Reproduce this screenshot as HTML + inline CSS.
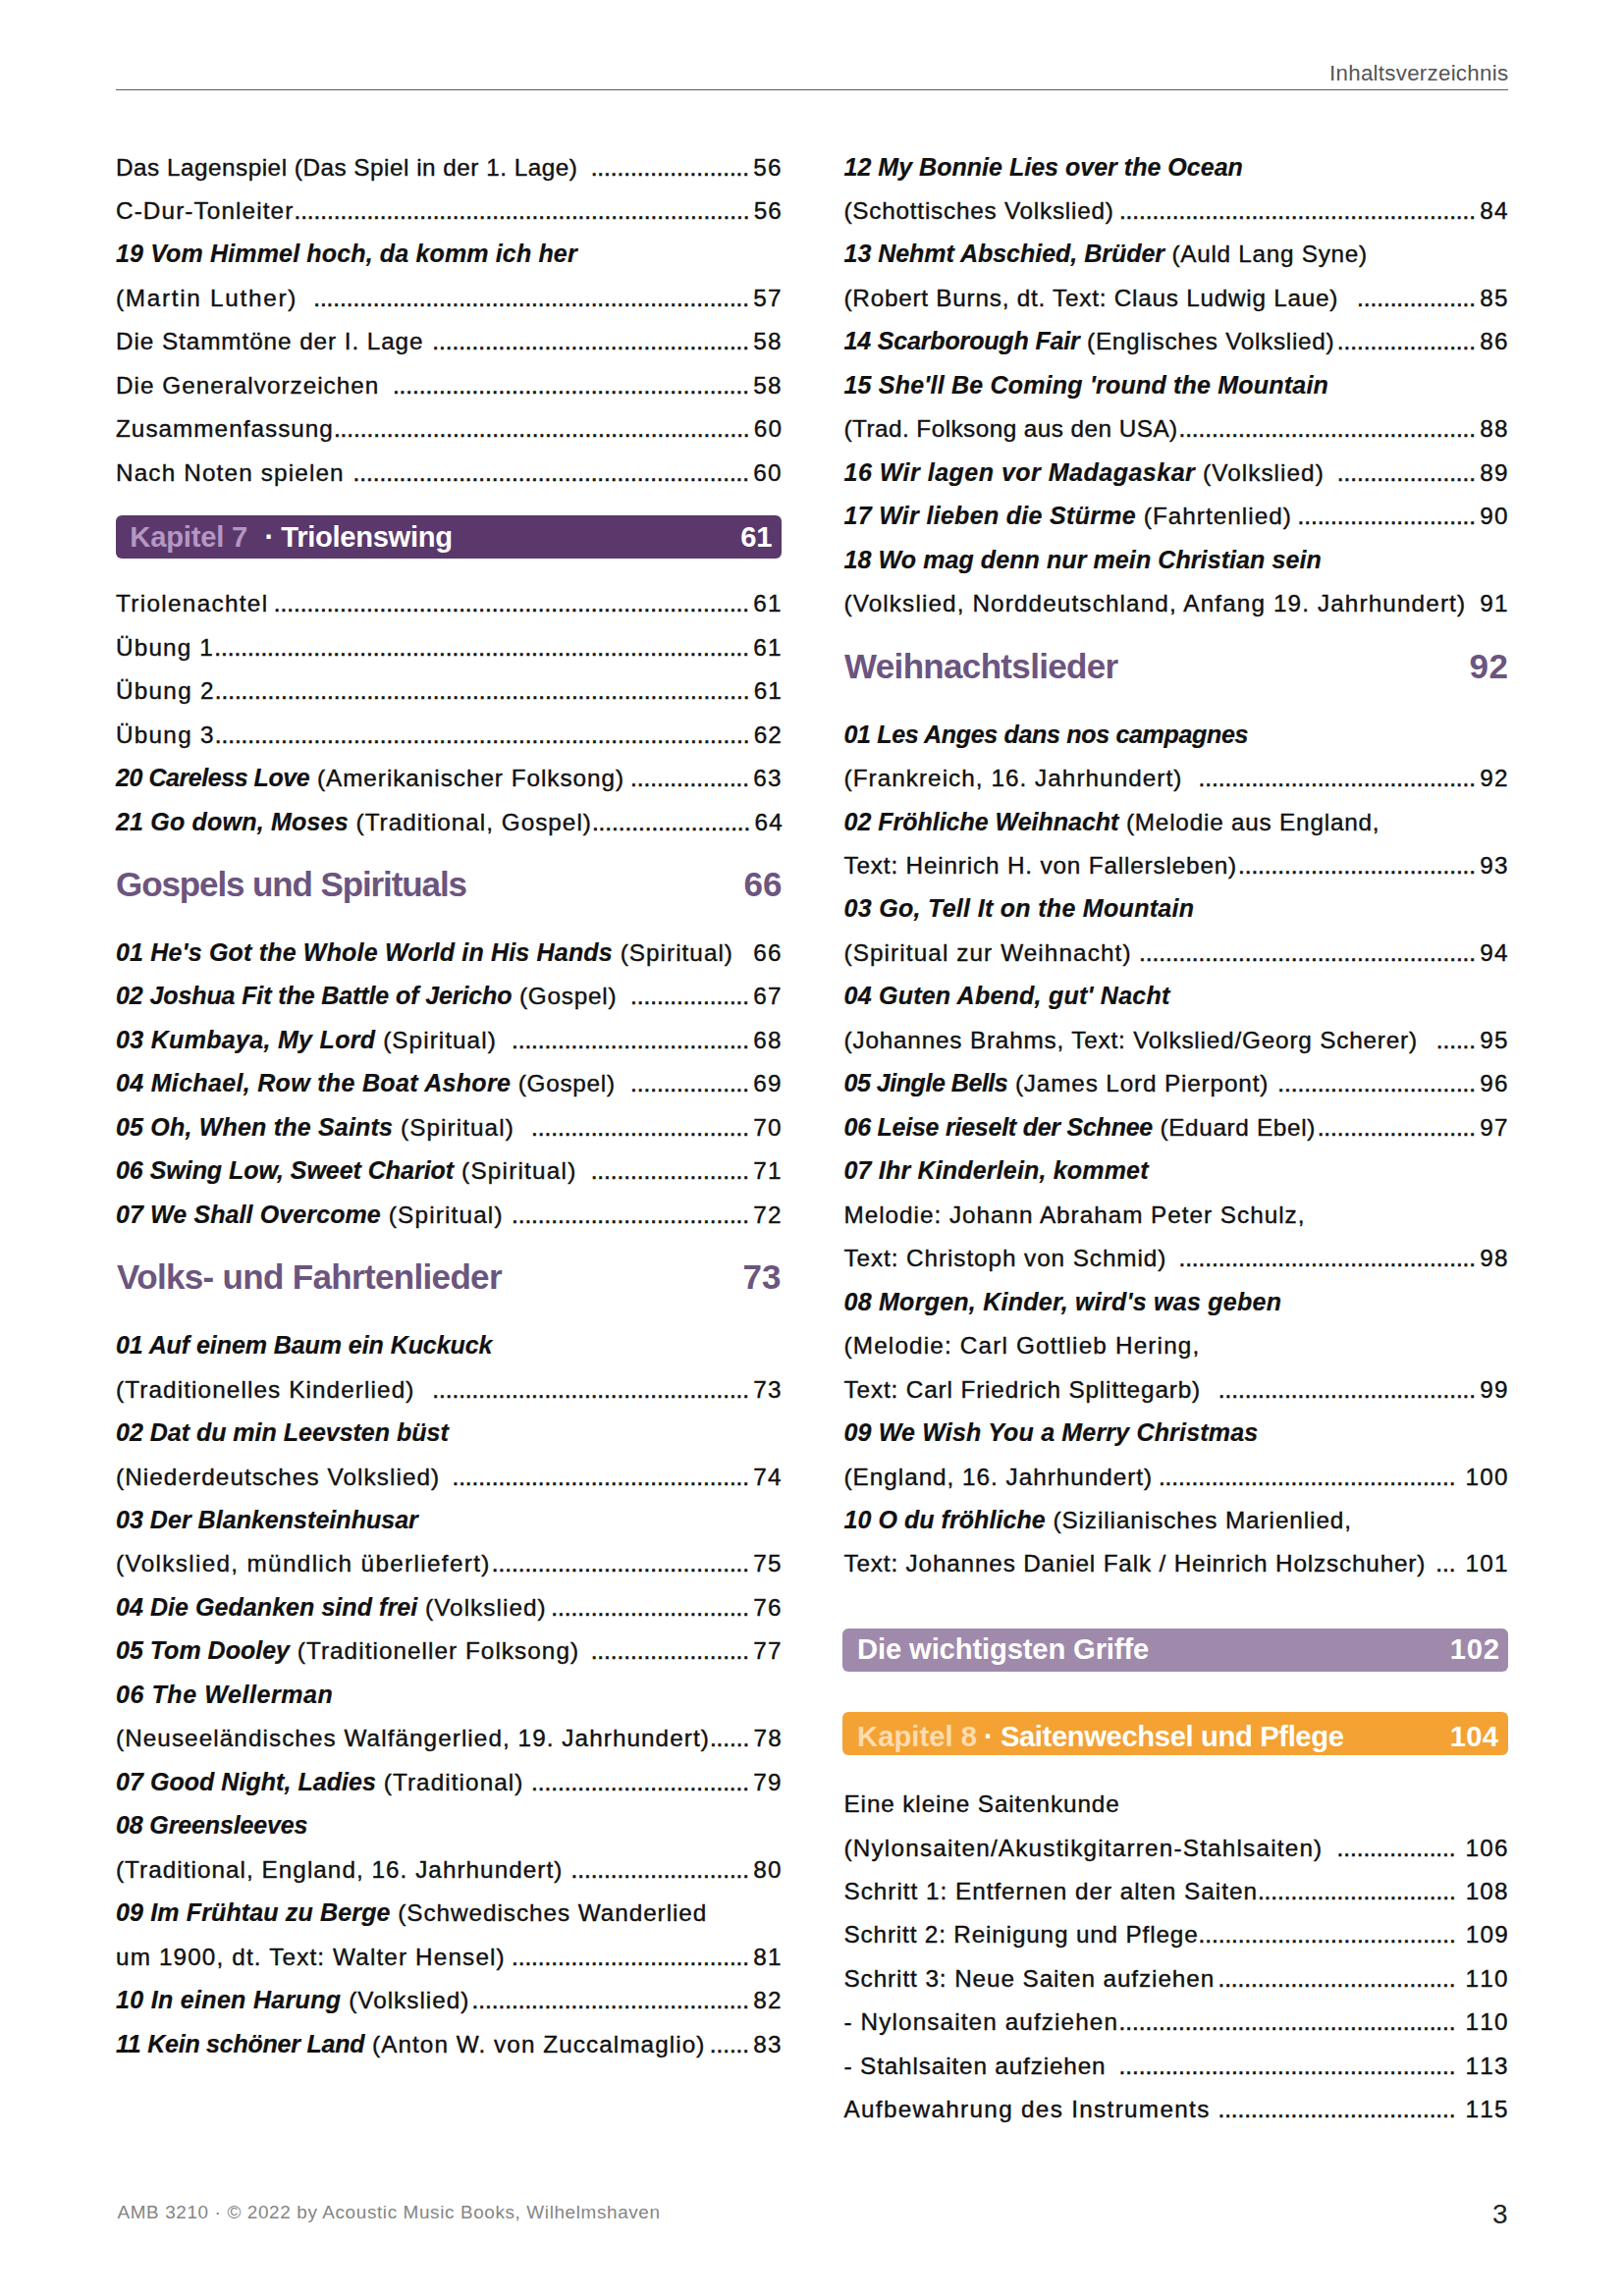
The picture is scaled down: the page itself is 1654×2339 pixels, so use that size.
<!DOCTYPE html>
<html lang="de"><head><meta charset="utf-8"><title>Inhaltsverzeichnis</title>
<style>
html,body{margin:0;padding:0;background:#fff}
body{width:1654px;height:2339px;position:relative;overflow:hidden;font-family:"Liberation Sans",sans-serif;color:#111}
.r{position:absolute;height:44px;line-height:44px;font-size:24.3px;white-space:nowrap;display:flex;align-items:baseline}
.r span{white-space:pre;flex:none}
.t,.n{-webkit-text-stroke:0.38px #111}
.d{-webkit-text-stroke:0.55px #111}
.b{font-weight:bold;font-style:italic;font-size:25px;-webkit-text-stroke:0.2px #111}
.r .g{flex:1 1 0}
.d{letter-spacing:-0.025px}
.n{font-kerning:none;text-align:right;letter-spacing:1.2px;margin-right:-1.2px}
.a{position:absolute;white-space:pre;height:50px;line-height:50px}
.h{font-size:35px;font-weight:bold;color:#6c557f}
.k{font-size:29.2px;font-weight:bold;color:#fff}
.hdr{font-size:22.3px;color:#555}
.ftr{font-size:18.9px;color:#858585}
.pg{font-size:28px;color:#222}
.bar{position:absolute;border-radius:6px}
#rule{position:absolute;left:118px;width:1417.5px;top:91px;height:1px;background:#5c5c5c}
</style></head><body>
<div id="rule"></div>
<div class="r" style="left:118.0px;width:677.5px;top:149px"><span id="L0_0" class="t" style="letter-spacing:0.503px">Das Lagenspiel (Das Spiel in der 1. Lage)</span><span class="g"></span><span class="d">........................</span><span class="n" style="margin-left:4.2px">56</span></div>
<div class="r" style="left:118.0px;width:677.5px;top:193px"><span id="L1_0" class="t" style="letter-spacing:1.112px">C-Dur-Tonleiter</span><span class="g"></span><span class="d">.....................................................................</span><span class="n" style="margin-left:4.2px">56</span></div>
<div class="r" style="left:118.0px;width:677.5px;top:236px"><span id="L2_0" class="b" style="letter-spacing:0.152px">19 Vom Himmel hoch, da komm ich her</span></div>
<div class="r" style="left:118.0px;width:677.5px;top:282px"><span id="L3_0" class="t" style="letter-spacing:1.710px">(Martin Luther)</span><span class="g"></span><span class="d">..................................................................</span><span class="n" style="margin-left:4.2px">57</span></div>
<div class="r" style="left:118.0px;width:677.5px;top:326px"><span id="L4_0" class="t" style="letter-spacing:0.925px">Die Stammtöne der I. Lage</span><span class="g"></span><span class="d">................................................</span><span class="n" style="margin-left:4.2px">58</span></div>
<div class="r" style="left:118.0px;width:677.5px;top:371px"><span id="L5_0" class="t" style="letter-spacing:1.007px">Die Generalvorzeichen</span><span class="g"></span><span class="d">......................................................</span><span class="n" style="margin-left:4.2px">58</span></div>
<div class="r" style="left:118.0px;width:677.5px;top:415px"><span id="L6_0" class="t" style="letter-spacing:1.018px">Zusammenfassung</span><span class="g"></span><span class="d">...............................................................</span><span class="n" style="margin-left:4.2px">60</span></div>
<div class="r" style="left:118.0px;width:677.5px;top:460px"><span id="L7_0" class="t" style="letter-spacing:1.152px">Nach Noten spielen</span><span class="g"></span><span class="d">............................................................</span><span class="n" style="margin-left:4.2px">60</span></div>
<div class="r" style="left:118.0px;width:677.5px;top:593px"><span id="L8_0" class="t" style="letter-spacing:1.323px">Triolenachtel</span><span class="g"></span><span class="d">........................................................................</span><span class="n" style="margin-left:4.2px">61</span></div>
<div class="r" style="left:118.0px;width:677.5px;top:638px"><span id="L9_0" class="t" style="letter-spacing:1.161px">Übung 1</span><span class="g"></span><span class="d">.................................................................................</span><span class="n" style="margin-left:4.2px">61</span></div>
<div class="r" style="left:118.0px;width:677.5px;top:682px"><span id="L10_0" class="t" style="letter-spacing:1.261px">Übung 2</span><span class="g"></span><span class="d">.................................................................................</span><span class="n" style="margin-left:4.2px">61</span></div>
<div class="r" style="left:118.0px;width:677.5px;top:727px"><span id="L11_0" class="t" style="letter-spacing:1.261px">Übung 3</span><span class="g"></span><span class="d">.................................................................................</span><span class="n" style="margin-left:4.2px">62</span></div>
<div class="r" style="left:118.0px;width:677.5px;top:770px"><span id="L12_0" class="b" style="letter-spacing:-0.444px">20 Careless Love</span><span id="L12_1" class="t" style="letter-spacing:0.965px"> (Amerikanischer Folksong)</span><span class="g"></span><span class="d">..................</span><span class="n" style="margin-left:4.2px">63</span></div>
<div class="r" style="left:118.0px;width:677.5px;top:815px"><span id="L13_0" class="b" style="letter-spacing:0.201px">21 Go down, Moses</span><span id="L13_1" class="t" style="letter-spacing:1.006px"> (Traditional, Gospel)</span><span class="g"></span><span class="d">........................</span><span class="n" style="margin-left:4.2px">64</span></div>
<div class="r" style="left:118.0px;width:677.5px;top:948px"><span id="L14_0" class="b" style="letter-spacing:0.182px">01 He's Got the Whole World in His Hands</span><span id="L14_1" class="t" style="letter-spacing:1.032px"> (Spiritual)</span><span class="g"></span><span class="n" style="margin-left:4.2px">66</span></div>
<div class="r" style="left:118.0px;width:677.5px;top:992px"><span id="L15_0" class="b" style="letter-spacing:-0.104px">02 Joshua Fit the Battle of Jericho</span><span id="L15_1" class="t" style="letter-spacing:0.786px"> (Gospel)</span><span class="g"></span><span class="d">..................</span><span class="n" style="margin-left:4.2px">67</span></div>
<div class="r" style="left:118.0px;width:677.5px;top:1037px"><span id="L16_0" class="b" style="letter-spacing:0.315px">03 Kumbaya, My Lord</span><span id="L16_1" class="t" style="letter-spacing:1.057px"> (Spiritual)</span><span class="g"></span><span class="d">....................................</span><span class="n" style="margin-left:4.2px">68</span></div>
<div class="r" style="left:118.0px;width:677.5px;top:1081px"><span id="L17_0" class="b" style="letter-spacing:0.322px">04 Michael, Row the Boat Ashore</span><span id="L17_1" class="t" style="letter-spacing:0.742px"> (Gospel)</span><span class="g"></span><span class="d">..................</span><span class="n" style="margin-left:4.2px">69</span></div>
<div class="r" style="left:118.0px;width:677.5px;top:1126px"><span id="L18_0" class="b" style="letter-spacing:0.199px">05 Oh, When the Saints</span><span id="L18_1" class="t" style="letter-spacing:1.073px"> (Spiritual)</span><span class="g"></span><span class="d">.................................</span><span class="n" style="margin-left:4.2px">70</span></div>
<div class="r" style="left:118.0px;width:677.5px;top:1170px"><span id="L19_0" class="b" style="letter-spacing:-0.032px">06 Swing Low, Sweet Chariot</span><span id="L19_1" class="t" style="letter-spacing:1.223px"> (Spiritual)</span><span class="g"></span><span class="d">........................</span><span class="n" style="margin-left:4.2px">71</span></div>
<div class="r" style="left:118.0px;width:677.5px;top:1215px"><span id="L20_0" class="b" style="letter-spacing:0.108px">07 We Shall Overcome</span><span id="L20_1" class="t" style="letter-spacing:1.173px"> (Spiritual)</span><span class="g"></span><span class="d">....................................</span><span class="n" style="margin-left:4.2px">72</span></div>
<div class="r" style="left:118.0px;width:677.5px;top:1348px"><span id="L21_0" class="b" style="letter-spacing:-0.066px">01 Auf einem Baum ein Kuckuck</span></div>
<div class="r" style="left:118.0px;width:677.5px;top:1394px"><span id="L22_0" class="t" style="letter-spacing:1.108px">(Traditionelles Kinderlied)</span><span class="g"></span><span class="d">................................................</span><span class="n" style="margin-left:4.2px">73</span></div>
<div class="r" style="left:118.0px;width:677.5px;top:1437px"><span id="L23_0" class="b" style="letter-spacing:-0.010px">02 Dat du min Leevsten büst</span></div>
<div class="r" style="left:118.0px;width:677.5px;top:1483px"><span id="L24_0" class="t" style="letter-spacing:1.079px">(Niederdeutsches Volkslied)</span><span class="g"></span><span class="d">.............................................</span><span class="n" style="margin-left:4.2px">74</span></div>
<div class="r" style="left:118.0px;width:677.5px;top:1526px"><span id="L25_0" class="b" style="letter-spacing:0.034px">03 Der Blankensteinhusar</span></div>
<div class="r" style="left:118.0px;width:677.5px;top:1571px"><span id="L26_0" class="t" style="letter-spacing:1.336px">(Volkslied, mündlich überliefert)</span><span class="g"></span><span class="d">.......................................</span><span class="n" style="margin-left:4.2px">75</span></div>
<div class="r" style="left:118.0px;width:677.5px;top:1615px"><span id="L27_0" class="b" style="letter-spacing:0.061px">04 Die Gedanken sind frei</span><span id="L27_1" class="t" style="letter-spacing:1.056px"> (Volkslied)</span><span class="g"></span><span class="d">..............................</span><span class="n" style="margin-left:4.2px">76</span></div>
<div class="r" style="left:118.0px;width:677.5px;top:1659px"><span id="L28_0" class="b" style="letter-spacing:0.007px">05 Tom Dooley</span><span id="L28_1" class="t" style="letter-spacing:1.050px"> (Traditioneller Folksong)</span><span class="g"></span><span class="d">........................</span><span class="n" style="margin-left:4.2px">77</span></div>
<div class="r" style="left:118.0px;width:677.5px;top:1704px"><span id="L29_0" class="b" style="letter-spacing:0.580px">06 The Wellerman</span></div>
<div class="r" style="left:118.0px;width:677.5px;top:1749px"><span id="L30_0" class="t" style="letter-spacing:1.062px">(Neuseeländisches Walfängerlied, 19. Jahrhundert)</span><span class="g"></span><span class="d">......</span><span class="n" style="margin-left:4.2px">78</span></div>
<div class="r" style="left:118.0px;width:677.5px;top:1793px"><span id="L31_0" class="b" style="letter-spacing:0.047px">07 Good Night, Ladies</span><span id="L31_1" class="t" style="letter-spacing:1.080px"> (Traditional)</span><span class="g"></span><span class="d">.................................</span><span class="n" style="margin-left:4.2px">79</span></div>
<div class="r" style="left:118.0px;width:677.5px;top:1837px"><span id="L32_0" class="b" style="letter-spacing:-0.139px">08 Greensleeves</span></div>
<div class="r" style="left:118.0px;width:677.5px;top:1883px"><span id="L33_0" class="t" style="letter-spacing:1.031px">(Traditional, England, 16. Jahrhundert)</span><span class="g"></span><span class="d">...........................</span><span class="n" style="margin-left:4.2px">80</span></div>
<div class="r" style="left:118.0px;width:677.5px;top:1926px"><span id="L34_0" class="b" style="letter-spacing:0.143px">09 Im Frühtau zu Berge</span><span id="L34_1" class="t" style="letter-spacing:0.952px"> (Schwedisches Wanderlied</span></div>
<div class="r" style="left:118.0px;width:677.5px;top:1972px"><span id="L35_0" class="t" style="letter-spacing:1.139px">um 1900, dt. Text: Walter Hensel)</span><span class="g"></span><span class="d">....................................</span><span class="n" style="margin-left:4.2px">81</span></div>
<div class="r" style="left:118.0px;width:677.5px;top:2015px"><span id="L36_0" class="b" style="letter-spacing:0.318px">10 In einen Harung</span><span id="L36_1" class="t" style="letter-spacing:1.014px"> (Volkslied)</span><span class="g"></span><span class="d">..........................................</span><span class="n" style="margin-left:4.2px">82</span></div>
<div class="r" style="left:118.0px;width:677.5px;top:2060px"><span id="L37_0" class="b" style="letter-spacing:-0.237px">11 Kein schöner Land</span><span id="L37_1" class="t" style="letter-spacing:1.066px"> (Anton W. von Zuccalmaglio)</span><span class="g"></span><span class="d">......</span><span class="n" style="margin-left:4.2px">83</span></div>
<div class="r" style="left:859.5px;width:676.0px;top:148px"><span id="R0_0" class="b" style="letter-spacing:0.022px">12 My Bonnie Lies over the Ocean</span></div>
<div class="r" style="left:859.5px;width:676.0px;top:193px"><span id="R1_0" class="t" style="letter-spacing:0.772px">(Schottisches Volkslied)</span><span class="g"></span><span class="d">......................................................</span><span class="n" style="margin-left:4.2px">84</span></div>
<div class="r" style="left:859.5px;width:676.0px;top:236px"><span id="R2_0" class="b" style="letter-spacing:-0.018px">13 Nehmt Abschied, Brüder</span><span id="R2_1" class="t" style="letter-spacing:0.724px"> (Auld Lang Syne)</span></div>
<div class="r" style="left:859.5px;width:676.0px;top:282px"><span id="R3_0" class="t" style="letter-spacing:0.763px">(Robert Burns, dt. Text: Claus Ludwig Laue)</span><span class="g"></span><span class="d">..................</span><span class="n" style="margin-left:4.2px">85</span></div>
<div class="r" style="left:859.5px;width:676.0px;top:325px"><span id="R4_0" class="b" style="letter-spacing:-0.159px">14 Scarborough Fair</span><span id="R4_1" class="t" style="letter-spacing:0.727px"> (Englisches Volkslied)</span><span class="g"></span><span class="d">.....................</span><span class="n" style="margin-left:4.2px">86</span></div>
<div class="r" style="left:859.5px;width:676.0px;top:370px"><span id="R5_0" class="b" style="letter-spacing:0.205px">15 She'll Be Coming 'round the Mountain</span></div>
<div class="r" style="left:859.5px;width:676.0px;top:415px"><span id="R6_0" class="t" style="letter-spacing:0.459px">(Trad. Folksong aus den USA)</span><span class="g"></span><span class="d">.............................................</span><span class="n" style="margin-left:4.2px">88</span></div>
<div class="r" style="left:859.5px;width:676.0px;top:459px"><span id="R7_0" class="b" style="letter-spacing:0.497px">16 Wir lagen vor Madagaskar</span><span id="R7_1" class="t" style="letter-spacing:1.056px"> (Volkslied)</span><span class="g"></span><span class="d">.....................</span><span class="n" style="margin-left:4.2px">89</span></div>
<div class="r" style="left:859.5px;width:676.0px;top:503px"><span id="R8_0" class="b" style="letter-spacing:0.307px">17 Wir lieben die Stürme</span><span id="R8_1" class="t" style="letter-spacing:1.029px"> (Fahrtenlied)</span><span class="g"></span><span class="d">...........................</span><span class="n" style="margin-left:4.2px">90</span></div>
<div class="r" style="left:859.5px;width:676.0px;top:548px"><span id="R9_0" class="b" style="letter-spacing:0.090px">18 Wo mag denn nur mein Christian sein</span></div>
<div class="r" style="left:859.5px;width:676.0px;top:593px"><span id="R10_0" class="t" style="letter-spacing:1.121px">(Volkslied, Norddeutschland, Anfang 19. Jahrhundert)</span><span class="g"></span><span class="n" style="margin-left:4.2px">91</span></div>
<div class="r" style="left:859.5px;width:676.0px;top:726px"><span id="R11_0" class="b" style="letter-spacing:-0.318px">01 Les Anges dans nos campagnes</span></div>
<div class="r" style="left:859.5px;width:676.0px;top:771px"><span id="R12_0" class="t" style="letter-spacing:1.043px">(Frankreich, 16. Jahrhundert)</span><span class="g"></span><span class="d">..........................................</span><span class="n" style="margin-left:4.2px">92</span></div>
<div class="r" style="left:859.5px;width:676.0px;top:815px"><span id="R13_0" class="b" style="letter-spacing:-0.012px">02 Fröhliche Weihnacht</span><span id="R13_1" class="t" style="letter-spacing:0.794px"> (Melodie aus England,</span></div>
<div class="r" style="left:859.5px;width:676.0px;top:860px"><span id="R14_0" class="t" style="letter-spacing:0.833px">Text: Heinrich H. von Fallersleben)</span><span class="g"></span><span class="d">....................................</span><span class="n" style="margin-left:4.2px">93</span></div>
<div class="r" style="left:859.5px;width:676.0px;top:903px"><span id="R15_0" class="b" style="letter-spacing:0.307px">03 Go, Tell It on the Mountain</span></div>
<div class="r" style="left:859.5px;width:676.0px;top:949px"><span id="R16_0" class="t" style="letter-spacing:1.101px">(Spiritual zur Weihnacht)</span><span class="g"></span><span class="d">...................................................</span><span class="n" style="margin-left:4.2px">94</span></div>
<div class="r" style="left:859.5px;width:676.0px;top:992px"><span id="R17_0" class="b" style="letter-spacing:0.236px">04 Guten Abend, gut' Nacht</span></div>
<div class="r" style="left:859.5px;width:676.0px;top:1038px"><span id="R18_0" class="t" style="letter-spacing:0.818px">(Johannes Brahms, Text: Volkslied/Georg Scherer)</span><span class="g"></span><span class="d">......</span><span class="n" style="margin-left:4.2px">95</span></div>
<div class="r" style="left:859.5px;width:676.0px;top:1081px"><span id="R19_0" class="b" style="letter-spacing:-0.460px">05 Jingle Bells</span><span id="R19_1" class="t" style="letter-spacing:0.853px"> (James Lord Pierpont)</span><span class="g"></span><span class="d">..............................</span><span class="n" style="margin-left:4.2px">96</span></div>
<div class="r" style="left:859.5px;width:676.0px;top:1126px"><span id="R20_0" class="b" style="letter-spacing:-0.241px">06 Leise rieselt der Schnee</span><span id="R20_1" class="t" style="letter-spacing:0.666px"> (Eduard Ebel)</span><span class="g"></span><span class="d">........................</span><span class="n" style="margin-left:4.2px">97</span></div>
<div class="r" style="left:859.5px;width:676.0px;top:1170px"><span id="R21_0" class="b" style="letter-spacing:0.182px">07 Ihr Kinderlein, kommet</span></div>
<div class="r" style="left:859.5px;width:676.0px;top:1216px"><span id="R22_0" class="t" style="letter-spacing:0.982px">Melodie: Johann Abraham Peter Schulz,</span></div>
<div class="r" style="left:859.5px;width:676.0px;top:1260px"><span id="R23_0" class="t" style="letter-spacing:0.924px">Text: Christoph von Schmid)</span><span class="g"></span><span class="d">.............................................</span><span class="n" style="margin-left:4.2px">98</span></div>
<div class="r" style="left:859.5px;width:676.0px;top:1304px"><span id="R24_0" class="b" style="letter-spacing:0.260px">08 Morgen, Kinder, wird's was geben</span></div>
<div class="r" style="left:859.5px;width:676.0px;top:1349px"><span id="R25_0" class="t" style="letter-spacing:1.165px">(Melodie: Carl Gottlieb Hering,</span></div>
<div class="r" style="left:859.5px;width:676.0px;top:1394px"><span id="R26_0" class="t" style="letter-spacing:0.870px">Text: Carl Friedrich Splittegarb)</span><span class="g"></span><span class="d">.......................................</span><span class="n" style="margin-left:4.2px">99</span></div>
<div class="r" style="left:859.5px;width:676.0px;top:1437px"><span id="R27_0" class="b" style="letter-spacing:0.177px">09 We Wish You a Merry Christmas</span></div>
<div class="r" style="left:859.5px;width:676.0px;top:1483px"><span id="R28_0" class="t" style="letter-spacing:0.982px">(England, 16. Jahrhundert)</span><span class="g"></span><span class="d">.............................................</span><span class="n" style="margin-left:10.0px">100</span></div>
<div class="r" style="left:859.5px;width:676.0px;top:1526px"><span id="R29_0" class="b" style="letter-spacing:0.059px">10 O du fröhliche</span><span id="R29_1" class="t" style="letter-spacing:0.929px"> (Sizilianisches Marienlied,</span></div>
<div class="r" style="left:859.5px;width:676.0px;top:1571px"><span id="R30_0" class="t" style="letter-spacing:0.834px">Text: Johannes Daniel Falk / Heinrich Holzschuher)</span><span class="g"></span><span class="d">...</span><span class="n" style="margin-left:10.0px">101</span></div>
<div class="r" style="left:859.5px;width:676.0px;top:1816px"><span id="R31_0" class="t" style="letter-spacing:0.890px">Eine kleine Saitenkunde</span></div>
<div class="r" style="left:859.5px;width:676.0px;top:1861px"><span id="R32_0" class="t" style="letter-spacing:1.195px">(Nylonsaiten/Akustikgitarren-Stahlsaiten)</span><span class="g"></span><span class="d">..................</span><span class="n" style="margin-left:10.0px">106</span></div>
<div class="r" style="left:859.5px;width:676.0px;top:1905px"><span id="R33_0" class="t" style="letter-spacing:0.985px">Schritt 1: Entfernen der alten Saiten</span><span class="g"></span><span class="d">..............................</span><span class="n" style="margin-left:10.0px">108</span></div>
<div class="r" style="left:859.5px;width:676.0px;top:1949px"><span id="R34_0" class="t" style="letter-spacing:0.839px">Schritt 2: Reinigung und Pflege</span><span class="g"></span><span class="d">.......................................</span><span class="n" style="margin-left:10.0px">109</span></div>
<div class="r" style="left:859.5px;width:676.0px;top:1994px"><span id="R35_0" class="t" style="letter-spacing:0.910px">Schritt 3: Neue Saiten aufziehen</span><span class="g"></span><span class="d">....................................</span><span class="n" style="margin-left:10.0px">110</span></div>
<div class="r" style="left:859.5px;width:676.0px;top:2038px"><span id="R36_0" class="t" style="letter-spacing:1.116px">- Nylonsaiten aufziehen</span><span class="g"></span><span class="d">...................................................</span><span class="n" style="margin-left:10.0px">110</span></div>
<div class="r" style="left:859.5px;width:676.0px;top:2083px"><span id="R37_0" class="t" style="letter-spacing:0.861px">- Stahlsaiten aufziehen</span><span class="g"></span><span class="d">...................................................</span><span class="n" style="margin-left:10.0px">113</span></div>
<div class="r" style="left:859.5px;width:676.0px;top:2127px"><span id="R38_0" class="t" style="letter-spacing:1.314px">Aufbewahrung des Instruments</span><span class="g"></span><span class="d">....................................</span><span class="n" style="margin-left:10.0px">115</span></div>
<div class="bar" style="left:118.0px;top:525.1px;width:677.6px;height:43.6px;background:#5b386b"></div>
<div class="bar" style="left:858.2px;top:1659.1px;width:677.4px;height:43.6px;background:#a08aab"></div>
<div class="bar" style="left:858.2px;top:1744.4px;width:677.4px;height:43.6px;background:#f4a234"></div>
<div id="H1" class="a h" style="left:118.10px;top:876px;letter-spacing:-1.110px">Gospels und Spirituals</div>
<div id="H1n" class="a h" style="left:757.50px;top:876px;letter-spacing:0.000px">66</div>
<div id="H2" class="a h" style="left:119.10px;top:1276px;letter-spacing:-0.666px">Volks- und Fahrtenlieder</div>
<div id="H2n" class="a h" style="left:756.50px;top:1276px;letter-spacing:0.000px">73</div>
<div id="H3" class="a h" style="left:860.10px;top:654px;letter-spacing:-0.673px">Weihnachtslieder</div>
<div id="H3n" class="a h" style="left:1496.50px;top:654px;letter-spacing:0.500px">92</div>
<div id="B1a" class="a k" style="left:132.30px;top:522px;letter-spacing:-0.209px;color:#b497c3">Kapitel 7</div>
<div id="B1b" class="a k" style="left:269.50px;top:522px;letter-spacing:0.000px">·</div>
<div id="B1c" class="a k" style="left:286.30px;top:522px;letter-spacing:-0.328px">Triolenswing</div>
<div id="B1n" class="a k" style="left:754.30px;top:522px;letter-spacing:-0.200px">61</div>
<div id="B2c" class="a k" style="left:873.10px;top:1655px;letter-spacing:-0.138px">Die wichtigsten Griffe</div>
<div id="B2n" class="a k" style="left:1476.70px;top:1655px;letter-spacing:0.850px">102</div>
<div id="B3a" class="a k" style="left:873.10px;top:1744px;letter-spacing:0.034px;color:#fbdcae">Kapitel 8</div>
<div id="B3b" class="a k" style="left:1001.90px;top:1744px;letter-spacing:0.000px">·</div>
<div id="B3c" class="a k" style="left:1018.90px;top:1744px;letter-spacing:-0.366px">Saitenwechsel und Pflege</div>
<div id="B3n" class="a k" style="left:1476.70px;top:1744px;letter-spacing:0.350px">104</div>
<div id="HDR" class="a hdr" style="left:1354.10px;top:50px;letter-spacing:0.277px">Inhaltsverzeichnis</div>
<div id="FTR" class="a ftr" style="left:119.50px;top:2229px;letter-spacing:0.629px">AMB 3210 · © 2022 by Acoustic Music Books, Wilhelmshaven</div>
<div id="PG" class="a pg" style="left:1519.90px;top:2231px;letter-spacing:0.000px">3</div>
</body></html>
